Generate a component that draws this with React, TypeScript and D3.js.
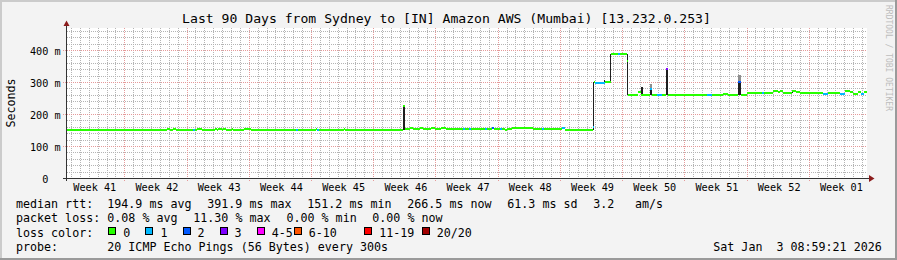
import React from 'react';
import * as d3 from 'd3';

// ---------- data ----------
const TITLE = 'Last 90 Days from Sydney to [IN] Amazon AWS (Mumbai) [13.232.0.253]';
const Y_LABEL = 'Seconds';
const WATERMARK = 'RRDTOOL / TOBI OETIKER';
const SPAN_DAYS = 90;
const Y_MAX_MS = 468.75;
const Y_TICKS = [0, 100, 200, 300, 400];
const WEEK_LABELS = ['Week 41', 'Week 42', 'Week 43', 'Week 44', 'Week 45', 'Week 46', 'Week 47',
  'Week 48', 'Week 49', 'Week 50', 'Week 51', 'Week 52', 'Week 01'];
const FIRST_DAY_LINE = 0.45;      // first midnight, days after graph start
const FIRST_WEEK_LINE = 6.45;     // first week boundary, days after graph start
const WEEK_LABEL_OFFSET = 3.67;   // label time inside each week

// median rtt, step segments: start day, value (ms), loss bucket index
const segStart = [0, 11.25, 11.59, 11.92, 12.26, 14.17, 14.45, 14.62, 15.19, 16.65, 16.87, 16.99, 17.44,
  17.55, 17.89, 18.56, 18.73, 19.91, 20.7, 25.76, 25.99, 28.01, 28.12, 28.35, 31.16, 31.33, 37.77, 37.97,
  38.59, 38.92, 39.71, 40.05, 40.95, 41.4, 42.08, 42.64, 44.55, 44.77, 45.22, 45.45, 47.03, 47.25, 47.81,
  48.04, 48.71, 48.94, 49.27, 49.5, 50.06, 52.42, 53.44, 53.66, 55.69, 56.03, 59.17, 59.32, 59.4, 60.52,
  61.2, 61.99, 62.21, 62.95, 63.12, 64.24, 64.57, 65.59, 65.81, 66.37, 66.94, 67.39, 67.61, 72.0, 72.56,
  73.8, 74.36, 75.53, 75.82, 76.5, 78.19, 78.41, 79.42, 79.99, 80.21, 80.55, 81.56, 82.01, 82.46, 85.05,
  85.61, 86.96, 87.52, 88.09, 88.43, 88.99, 89.32, 89.66];
const segMs = [151, 154, 151, 154, 151, 151, 151, 154, 151, 154, 151, 154, 151,
  154, 151, 154, 151, 154, 151, 151, 151, 154, 151, 151, 154, 151, 226, 152,
  155, 152, 155, 152, 155, 152, 155, 152, 152, 152, 152, 152, 152, 152, 155,
  152, 152, 152, 149, 152, 155, 152, 152, 152, 155, 151, 160, 300, 298, 300,
  388, 388, 388, 366, 260, 268, 260, 278, 260, 260, 260, 341, 260, 260, 260,
  263, 260, 300, 260, 266, 266, 266, 272, 268, 272, 266, 272, 268, 266, 262,
  266, 264, 272, 268, 264, 270, 264, 268];
const segLoss = [0, 0, 0, 0, 0, 1, 0, 0, 0, 0, 0, 0, 0,
  0, 0, 0, 0, 0, 0, 1, 0, 0, 1, 0, 0, 0, 0, 0,
  0, 0, 0, 0, 0, 0, 0, 0, 1, 0, 1, 0, 1, 0, 2,
  0, 1, 0, 0, 0, 0, 0, 1, 0, 1, 0, 1, 0, 1, 0,
  0, 1, 0, 0, 0, 0, 0, 1, 0, 1, 0, 3, 0, 1, 0,
  0, 0, 2, 0, 0, 1, 0, 0, 0, 0, 0, 0, 0, 0, 1,
  0, 1, 0, 0, 0, 0, 1, 0];

// smoke (ping spread): start day, end day, low ms, high ms, shade index
const smokeStart = [37.77, 59.2, 60.4, 61.1, 62.95, 64.57, 65.59, 65.59, 67.39, 75.53, 75.53, 81.56];
const smokeEnd = [37.97, 59.33, 60.52, 61.22, 63.1, 64.8, 65.81, 65.81, 67.61, 75.82, 75.82, 81.7];
const smokeLow = [151, 151, 298, 300, 260, 260, 260, 280, 260, 260, 300, 266];
const smokeHigh = [228, 300, 306, 388, 388, 285, 280, 294, 342, 300, 322, 276];
const smokeShade = [0, 0, 0, 0, 0, 0, 0, 1, 0, 0, 1, 0];
const SMOKE_COLORS = ['#1e1e1e', '#8e8e8e'];

const LOSS_LABELS = ['0', '1', '2', '3', '4-5', '6-10', '11-19', '20/20'];
const LOSS_COLORS = ['#26ff00', '#00b8ff', '#0059ff', '#7e00ff', '#ff00ff', '#ff5500', '#ff0000', '#a10000'];

const RTT_ROW = ['median rtt:', '194.9 ms avg', '391.9 ms max', '151.2 ms min', '266.5 ms now', '61.3 ms sd', '3.2', 'am/s'];
const LOSS_ROW = ['packet loss:', '0.08 % avg', '11.30 % max', '0.00 % min', '0.00 % now'];
const LOSS_COLOR_TITLE = 'loss color:';
const PROBE_ROW = ['probe:', '20 ICMP Echo Pings (56 Bytes) every 300s'];
const TIMESTAMP = 'Sat Jan\u00a0\u00a03 08:59:21 2026';

// ---------- layout ----------
const W = 897;
const H = 260;
const P = { left: 67, right: 867, top: 28, bottom: 178 };
const RTT_X = [16, 107.3, 207.3, 307.3, 407.3, 507.3, 593.3, 635];
const LOSS_X = [16, 107.3, 193.3, 286.5, 372.3];
const BOX_X = [108.3, 145.4, 182.5, 219.6, 256.7, 293.8, 364.3, 421.7];
const ROW_Y = [208.3, 222.4, 236.6, 250.7];
const FONT = "'DejaVu Sans Mono', monospace";
const PT = 1.458;

export default function App() {
  const x = d3.scaleLinear().domain([0, SPAN_DAYS]).range([P.left, P.right]);
  const y = d3.scaleLinear().domain([0, Y_MAX_MS]).range([P.bottom, P.top]);
  const px = (v: number) => Math.round(v) + 0.5;

  const weekLines = d3.range(FIRST_WEEK_LINE, SPAN_DAYS, 7);
  const dayLines = d3.range(FIRST_DAY_LINE, SPAN_DAYS, 1).filter(
    (d) => !weekLines.some((w) => Math.abs(w - d) < 1e-6)
  );
  const minorY = d3.range(20, Y_MAX_MS, 20).filter((v) => v % 100 !== 0);
  const majorY = Y_TICKS.filter((v) => v > 0);

  const segs = segStart.map((s, i) => ({
    x1: x(s),
    x2: x(i + 1 < segStart.length ? segStart[i + 1] : SPAN_DAYS),
    y: y(segMs[i]),
    c: LOSS_COLORS[segLoss[i]],
  }));

  return (
    <svg width={W} height={H} style={{ position: 'absolute', left: 0, top: 0, display: 'block' }}
      fontFamily={FONT}>
      <rect x={0} y={0} width={W} height={H} fill="#f3f3f3" />
      <rect x={0} y={0} width={W} height={2} fill="#cbcbcb" />
      <rect x={0} y={0} width={2} height={H} fill="#cbcbcb" />
      <rect x={0} y={H - 2} width={W} height={2} fill="#9a9a9a" />
      <rect x={W - 2} y={0} width={2} height={H} fill="#9a9a9a" />

      <rect x={P.left} y={P.top} width={P.right - P.left} height={P.bottom - P.top} fill="#ffffff" />

      {/* minor grid */}
      <g stroke="#b4b4b4" strokeWidth={1} strokeDasharray="1 1" shapeRendering="crispEdges">
        {dayLines.map((d, i) => (
          <line key={'dv' + i} x1={px(x(d))} x2={px(x(d))} y1={P.top} y2={P.bottom + 2} />
        ))}
        {minorY.map((v, i) => (
          <line key={'mh' + i} x1={P.left} x2={P.right} y1={px(y(v))} y2={px(y(v))} />
        ))}
      </g>
      {/* major grid */}
      <g stroke="#e59a9a" strokeWidth={1} strokeDasharray="1 1" shapeRendering="crispEdges">
        {weekLines.map((d, i) => (
          <line key={'wv' + i} x1={px(x(d))} x2={px(x(d))} y1={P.top} y2={P.bottom + 4} />
        ))}
        {majorY.map((v, i) => (
          <line key={'Mh' + i} x1={P.left - 4} x2={P.right} y1={px(y(v))} y2={px(y(v))} />
        ))}
      </g>

      {/* smoke */}
      <g shapeRendering="crispEdges">
        {smokeStart.map((s, i) => {
          const x0 = Math.round(x(s));
          const x1 = Math.max(x0 + 1, Math.round(x(smokeEnd[i])));
          return (
            <rect key={'s' + i} x={x0} width={x1 - x0} y={y(smokeHigh[i])}
              height={y(smokeLow[i]) - y(smokeHigh[i])} fill={SMOKE_COLORS[smokeShade[i]]} />
          );
        })}
      </g>

      {/* median rtt coloured by loss */}
      <g strokeWidth={2} shapeRendering="crispEdges">
        {segs.map((s, i) => (
          <line key={'m' + i} x1={s.x1} x2={Math.max(s.x2, s.x1 + 1)} y1={Math.round(s.y)} y2={Math.round(s.y)}
            stroke={s.c} />
        ))}
      </g>

      {/* axes */}
      <g stroke="#333" strokeWidth={1} shapeRendering="crispEdges">
        <line x1={P.left - 4} x2={P.right + 2} y1={P.bottom + 0.5} y2={P.bottom + 0.5} />
        <line x1={P.left - 0.5} x2={P.left - 0.5} y1={P.bottom + 3} y2={P.top - 2} />
      </g>
      <polygon points={`${P.left - 3.5},${P.top - 2} ${P.left + 2.5},${P.top - 2} ${P.left - 0.5},${P.top - 7.5}`}
        fill="#8b1c1c" />
      <polygon points={`${P.right + 2},${P.bottom - 3} ${P.right + 2},${P.bottom + 4} ${P.right + 7.5},${P.bottom + 0.5}`}
        fill="#8b1c1c" />

      {/* y tick labels */}
      <g fontSize={7 * PT} textAnchor="end" fill="#000">
        {Y_TICKS.map((v) => (
          <text key={'yt' + v} x={60.6} y={y(v) + 5}>
            {v === 0 ? '0\u00a0\u00a0' : `${v} m`}
          </text>
        ))}
      </g>
      {/* x labels */}
      <g fontSize={7 * PT} textAnchor="middle" fill="#000">
        {WEEK_LABELS.map((l, i) => (
          <text key={'xl' + i} x={x(FIRST_WEEK_LINE - 7 + 7 * i + WEEK_LABEL_OFFSET)} y={191}>{l}</text>
        ))}
      </g>

      {/* title */}
      <text x={446.5} y={23} fontSize={9 * PT} textAnchor="middle" fill="#000">
        {TITLE}
      </text>
      {/* y axis title */}
      <text transform={`translate(15,${(P.top + P.bottom) / 2}) rotate(-90)`} fontSize={8 * PT}
        textAnchor="middle" fill="#000">{Y_LABEL}</text>
      {/* watermark */}
      <text transform={`translate(886,5) rotate(90)`} fontSize={5.5 * PT} fill="#bdbdbd">{WATERMARK}</text>

      {/* legend */}
      <g fontSize={8 * PT} fill="#000">
        {RTT_ROW.map((t, i) => (
          <text key={'r' + i} x={RTT_X[i]} y={ROW_Y[0]}>{t}</text>
        ))}
        {LOSS_ROW.map((t, i) => (
          <text key={'l' + i} x={LOSS_X[i]} y={ROW_Y[1]}>{t}</text>
        ))}
        <text x={16} y={ROW_Y[2]}>{LOSS_COLOR_TITLE}</text>
        {LOSS_LABELS.map((t, i) => (
          <g key={'lc' + i}>
            <rect x={Math.round(BOX_X[i]) + 0.5} y={227.5} width={7} height={7} fill={LOSS_COLORS[i]}
              stroke="#000" strokeWidth={1} shapeRendering="crispEdges" />
            <text x={BOX_X[i] + 15} y={ROW_Y[2]}>{t}</text>
          </g>
        ))}
        <text x={16} y={ROW_Y[3]}>{PROBE_ROW[0]}</text>
        <text x={107.3} y={ROW_Y[3]}>{PROBE_ROW[1]}</text>
        <text x={713.3} y={ROW_Y[3]}>{TIMESTAMP}</text>
      </g>
    </svg>
  );
}
